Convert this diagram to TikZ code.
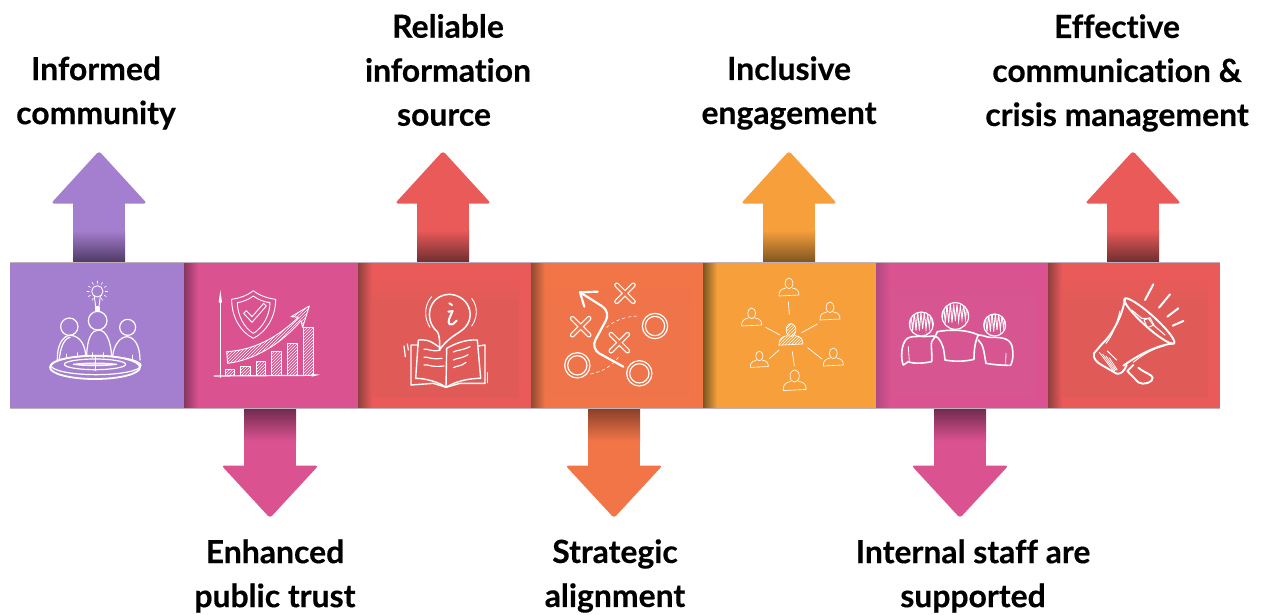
\documentclass[tikz,border=0pt]{standalone}
\usepackage{fontspec}
\setmainfont{Lato}[Ligatures=NoCommon,BoldFeatures={FakeBold=0.35}]
\usetikzlibrary{patterns,shapes.geometric}
\definecolor{cpurple}{HTML}{A57FCF}
\definecolor{cpink}{HTML}{DA5290}
\definecolor{cred}{HTML}{EA5A59}
\definecolor{corange}{HTML}{F17547}
\definecolor{camber}{HTML}{F7A03B}
\definecolor{dpurple}{HTML}{4F3A66}
\definecolor{dpink}{HTML}{6E2A4E}
\definecolor{dred}{HTML}{702E30}
\definecolor{dorange}{HTML}{873F28}
\definecolor{damber}{HTML}{7F5522}
\definecolor{epink}{HTML}{8A3560}
\definecolor{ered}{HTML}{8F3F3F}
\definecolor{eorange}{HTML}{8E4A2F}
\definecolor{eamber}{HTML}{7A5522}
\definecolor{epinkb}{HTML}{B04A80}
\definecolor{ired}{HTML}{E05B57}
\definecolor{iorange}{HTML}{EF7449}
\definecolor{ipink}{HTML}{D75590}
\definecolor{edgeline}{HTML}{C0B0BC}
\tikzset{
  cellbox/.style={minimum width=#1,minimum height=146pt,inner sep=0pt,outer sep=0pt,anchor=north west,draw=none},
  lbl/.style={align=center,font=\fontsize{31.9}{44}\selectfont\bfseries,text=black,inner sep=0pt},
  ic/.style={draw=white,line width=1.2pt,line cap=round,line join=round},
  icb/.style={draw=white,line width=2pt,line cap=round,line join=round},
  hatch/.style={pattern=north east lines,pattern color=white},
  izoom/.style={x=0.33333pt,y=-0.33333pt}
}
% up arrow: centre x, colour, dark colour
\newcommand{\UpArrow}[3]{%
  \fill[#2,rounded corners=3pt] (#1,151) -- (#1+48,203.5) -- (#1-48,203.5) -- cycle;
  \fill[#2] (#1-26,200) rectangle (#1+26,231);
  \shade[top color=#2,bottom color=#3] (#1-26,230) rectangle (#1+26,262);
}
\newcommand{\DownArrow}[3]{%
  \fill[#2,rounded corners=3pt] (#1,518) -- (#1+48.5,465.5) -- (#1-48.5,465.5) -- cycle;
  \fill[#2] (#1-26,440) rectangle (#1+26,469);
  \shade[top color=#3,bottom color=#2] (#1-26,408) rectangle (#1+26,441);
}
% cell: name, left, right, colour, edge shadow colour, inner tone
\newcommand{\CellBox}[6]{%
  \node[cellbox=#3pt-#2pt,fill=#4] (#1) at (#2,262) {};
  \shade[top color=#4,bottom color=#6] (#2+14,275) rectangle (#3-12,300);
  \fill[#6] (#2+14,300) rectangle (#3-12,398);
  \shade[left color=#5,right color=#4] (#2,262) rectangle (#2+14,408);
}
\newcommand{\Person}[4]{% cx, head cy, scale, fill?
  \begin{scope}[shift={(#1,#2)},scale=#3]
    \draw[ic,line width=0.65pt,#4] (0,0) ellipse [x radius=12,y radius=16];
    \draw[ic,line width=0.65pt,#4] (-10,14) .. controls (-28,18) and (-30,26) .. (-30,38) -- (30,35) .. controls (30,24) and (26,16) .. (10,14);
  \end{scope}}
\begin{document}
\begin{tikzpicture}[x=1pt,y=-1pt]
\useasboundingbox (0,0) rectangle (1262,614);
\fill[white] (0,0) rectangle (1262,614);

\UpArrow{99}{cpurple}{dpurple}
\UpArrow{443}{cred}{dred}
\UpArrow{789}{camber}{damber}
\UpArrow{1133}{cred}{dred}
\DownArrow{270}{cpink}{dpink}
\DownArrow{614}{corange}{dorange}
\DownArrow{960}{cpink}{dpink}

\CellBox{c1}{10}{184}{cpurple}{cpurple}{cpurple}
\CellBox{c2}{184}{358}{cpink}{epink}{cpink}
\CellBox{c3}{358}{531}{cred}{ered}{ired}
\CellBox{c4}{531}{703}{corange}{eorange}{iorange}
\CellBox{c5}{703}{876}{camber}{eamber}{camber}
\CellBox{c6}{876}{1048}{cpink}{epinkb}{ipink}
\CellBox{c7}{1048}{1220}{cred}{ered}{ired}
\draw[edgeline,line width=0.6pt] (c1.north west) -- (c7.north east);
\draw[edgeline,line width=0.6pt] (c1.south west) -- (c7.south east);

% ---------- icon 1
\begin{scope}[shift={(40,280)},izoom]
  \draw[ic] (88,140) circle [radius=26];
  \draw[ic] (173,122) circle [radius=28];
  \draw[ic] (263,142) circle [radius=24];
  \draw[ic] (52,240) .. controls (50,195) and (70,165) .. (92,166) .. controls (120,168) and (136,195) .. (137,228);
  \draw[ic] (58,240) .. controls (60,205) and (72,175) .. (90,172);
  \draw[ic] (140,225) .. controls (142,175) and (155,150) .. (175,150) .. controls (200,150) and (212,185) .. (215,228);
  \draw[ic] (218,228) .. controls (222,195) and (240,170) .. (262,170) .. controls (285,172) and (300,200) .. (300,240);
  \foreach \a/\b in {78/222,113/218,158/218,190/218,278/225}{\draw[ic,line width=.7pt] (\a,\b) -- (\a,\b+14);}
  \draw[ic,line width=1.8pt] (165,262) ellipse [x radius=135,y radius=35];
  \draw[ic] (168,256) ellipse [x radius=135,y radius=28];
  \draw[ic] (165,253) ellipse [x radius=92,y radius=16];
  \draw[ic,fill=white,fill opacity=.6] (100,253) .. controls (140,248) and (190,248) .. (230,253) .. controls (190,258) and (140,258) .. (100,253) -- cycle;
  \draw[ic,line width=.8pt] (165,232) -- (165,272);
  \draw[ic,line width=.9pt] (172,34) circle [radius=17];
  \draw[ic,line width=.9pt] (163,48) -- (167,80) -- (177,80) -- (181,48);
  \fill[white] (165,80) rectangle (180,96);
  \foreach \ang in {120,150,180,210,240,270,300,330,0,30,60}{
    \draw[ic,line width=.6pt] (172,34) ++(\ang:24) -- ++(\ang:7);}
\end{scope}

% ---------- icon 2
\begin{scope}[shift={(205,280)},izoom]
  \draw[ic] (46,292) -- (46,40);
  \fill[white] (46,30) -- (51,68) -- (41,68) -- cycle;
  \draw[ic] (28,288) -- (325,286);
  \fill[white] (320,282) -- (345,284) -- (320,290) -- cycle;
  \foreach \l/\r/\t in {60/88/268,107/135/258,153/181/243,200/230/215,247/277/190,294/325/143}{
    \draw[ic,hatch,line width=.9pt] (\l,\t) rectangle (\r,285);}
  \draw[ic,line width=.9pt] (145,32) .. controls (125,48) and (100,55) .. (80,58) .. controls (80,110) and (105,155) .. (145,175) .. controls (185,155) and (212,110) .. (212,58) .. controls (190,55) and (165,48) .. (145,32) -- cycle;
  \draw[ic,line width=.9pt] (145,48) .. controls (130,60) and (110,66) .. (97,68) .. controls (97,105) and (118,145) .. (145,160) .. controls (172,145) and (195,105) .. (195,68) .. controls (180,66) and (160,60) .. (145,48) -- cycle;
  \draw[ic,line width=.9pt] (116,100) -- (141,127) -- (184,78) -- (176,70) -- (141,110) -- (124,92) -- cycle;
  \draw[ic,hatch,line width=.9pt] (65,215) .. controls (150,210) and (220,170) .. (280,112) -- (258,110) -- (313,78) -- (293,142) -- (288,122) .. controls (230,190) and (150,240) .. (68,250) -- cycle;
\end{scope}

% ---------- icons 3 and 4
\begin{scope}[shift={(350,250)},izoom]
  \draw[icb,line width=1.5pt] (268,300) .. controls (270,270) and (268,255) .. (262,245) .. controls (220,210) and (235,135) .. (298,133) .. controls (360,135) and (385,210) .. (330,245) .. controls (310,258) and (290,270) .. (268,300) -- cycle;
  \draw[ic,line width=.9pt] (245,140) .. controls (222,165) and (222,205) .. (240,232);
  \draw[ic,line width=.9pt] (365,145) .. controls (385,170) and (382,205) .. (365,228);
  \draw[icb] (298,160) -- (306,165);
  \draw[icb] (295,185) -- (308,183) .. controls (300,200) and (292,215) .. (298,222) .. controls (305,226) and (315,220) .. (320,212);
  \draw[ic,line width=1.4pt] (265,290) .. controls (240,270) and (225,268) .. (205,270) -- (197,385) .. controls (225,385) and (265,395) .. (288,412);
  \draw[ic,line width=1.4pt] (288,412) .. controls (320,392) and (360,385) .. (392,385) -- (382,270) .. controls (350,268) and (320,278) .. (290,295) -- (288,412);
  \draw[ic,line width=1.4pt] (205,285) -- (183,285) -- (183,405) -- (250,400) -- (288,412) -- (330,400) -- (405,400) -- (405,285) -- (385,288);
  \foreach \y/\s in {298/0,322/-2,345/-4}{
    \draw[ic] (222,\y) .. controls (232,\y-4) and (240,\y+8) .. (270-\s*3,\y+3);
    \draw[ic] (310,\y+8) .. controls (320,\y+2) and (335,\y+4) .. (360+\s*3,\y-8);}
  \draw[ic] (162,288) -- (166,320);
  \draw[ic] (172,282) -- (175,300);
  \draw[ic] (412,368) -- (412,398);
  % tactics
  \draw[icb,line width=2.2pt,rounded corners=10pt] (820,350) -- (722,296) -- (782,185) -- (692,128);
  \draw[icb,line width=2.2pt] (743,125) -- (690,127) -- (703,170);
  \foreach \cx/\cy in {825/130,692/230,808/278}{
    \draw[white,line width=5pt,line cap=round] (\cx-25,\cy-25) -- (\cx+25,\cy+25) (\cx-25,\cy+25) -- (\cx+25,\cy-25);
    \draw[corange,line width=2.6pt,line cap=round] (\cx-25,\cy-25) -- (\cx+25,\cy+25) (\cx-25,\cy+25) -- (\cx+25,\cy-25);
  }
  \foreach \cx/\cy in {915/228,682/346,868/370}{
    \draw[ic] (\cx,\cy) circle [radius=38];
    \draw[ic] (\cx,\cy) circle [radius=29];
  }
  \draw[ic,line width=.6pt,dashed] (770,232) .. controls (795,210) and (830,198) .. (870,198);
  \draw[ic,line width=.6pt,dashed] (722,372) .. controls (760,365) and (790,345) .. (810,315);
\end{scope}

% ---------- icons 5 and 6
\begin{scope}[shift={(700,250)},izoom]
  \Person{267}{100}{1}{}
  \Person{155}{190}{1}{}
  \Person{390}{172}{1}{}
  \Person{178}{318}{.9}{}
  \Person{400}{310}{1}{}
  \Person{284}{378}{1.15}{}
  \Person{273}{240}{1.2}{hatch}
  \foreach \a/\b/\c/\d in {265/155/268/193,197/232/240/255,352/222/305/248,237/300/208/326,323/293/366/327,277/305/283/348}{
    \draw[ic,line width=.7pt] (\a,\b) -- (\c,\d);}
  \foreach \cx/\cy/\r in {664/222/36,766/198/40,884/225/33}{
    \draw[ic] (\cx,\cy) circle [radius=\r];
    \begin{scope}
      \clip (\cx,\cy) circle [radius=\r];
      \draw[white,line width=.9pt] (\cx-\r,\cy+20) -- ++(5,-50) -- ++(5,50) -- ++(5,-55) -- ++(5,55) -- ++(5,-60) -- ++(5,60) -- ++(5,-55) -- ++(5,50) -- ++(5,-50) -- ++(5,50) -- ++(5,-45) -- ++(5,40) -- ++(5,-45) -- ++(5,45) -- ++(5,-45) -- ++(5,45);
    \end{scope}}
  \draw[ic,line width=1.6pt] (700,258) .. controls (670,262) and (640,255) .. (622,265) .. controls (602,280) and (602,330) .. (610,345) -- (625,335) .. controls (640,342) and (670,340) .. (695,335) .. controls (697,310) and (692,285) .. (695,275) .. controls (700,268) and (705,262) .. (712,245);
  \draw[ic,line width=1.6pt] (712,245) .. controls (750,238) and (800,238) .. (835,255) .. controls (825,275) and (822,300) .. (822,328) .. controls (795,335) and (760,335) .. (735,330) .. controls (732,300) and (730,280) .. (712,262) -- (700,258);
  \draw[ic,line width=1.6pt] (835,255) .. controls (850,255) and (860,262) .. (870,262) .. controls (900,262) and (925,262) .. (935,285) .. controls (942,310) and (938,335) .. (932,346) .. controls (905,346) and (880,344) .. (858,340) .. controls (852,310) and (852,285) .. (835,270);
  \draw[ic,line width=.8pt] (918,310) -- (917,340);
  \draw[ic,line width=.8pt] (625,290) -- (628,335);
\end{scope}

% ---------- icon 7
\begin{scope}[shift={(1070,275)},izoom]
  \draw[ic,line width=1.9pt,rotate around={-42:(238,138)}] (238,138) ellipse [x radius=100,y radius=18];
  \draw[ic,line width=1.9pt] (165,72) .. controls (155,130) and (125,180) .. (95,208);
  \draw[ic,line width=1.9pt] (312,205) .. controls (260,210) and (205,240) .. (160,272);
  \draw[ic,line width=1.9pt] (95,208) -- (72,235) .. controls (68,250) and (80,262) .. (95,270) -- (140,296) .. controls (152,298) and (162,290) .. (170,270);
  \draw[ic,line width=1.9pt] (190,270) -- (172,288) -- (205,322) .. controls (220,332) and (250,322) .. (248,308) .. controls (246,298) and (225,295) .. (205,278);
  \draw[ic,line width=1pt] (150,108) .. controls (140,150) and (125,185) .. (108,205);
  \draw[ic,line width=1pt] (112,228) -- (140,255);
  \draw[ic,line width=1pt] (285,212) .. controls (250,220) and (215,240) .. (190,262);
  \foreach \d in {0,10,20,30}{\draw[ic,line width=.8pt] (88+\d,232+\d*.55) -- (130+\d*.4,288-\d*.1);}
  \draw[ic,line width=1.1pt] (185,105) -- (215,130) -- (235,130) -- (250,150) -- (285,180);
  \draw[ic,line width=1pt] (222,135) -- (240,128) -- (252,150) -- (232,158) -- cycle;
  \foreach \a/\b/\c/\d in {225/75/250/28,267/98/300/58,292/125/325/100,308/152/340/138}{
    \draw[white,line width=2pt,line cap=round] (\a,\b) -- (\c,\d);}
\end{scope}

% ---------- labels
\node[lbl] (t1) at (96,93) {Informed\\community};
\node[lbl] (t2) at (275,576) {Enhanced\\public trust};
\node[lbl] (t3) at (448,70) {Reliable\\information\\source\hspace*{8pt}\null};
\node[lbl] (t4) at (615,576) {Strategic\\alignment};
\node[lbl] (t5) at (789,93) {Inclusive\\engagement};
\node[lbl] (t6) at (973,576) {Internal staff are\\supported};
\node[lbl] (t7) at (1117,73) {Effective\\communication \&\\crisis management};
\end{tikzpicture}
\end{document}
